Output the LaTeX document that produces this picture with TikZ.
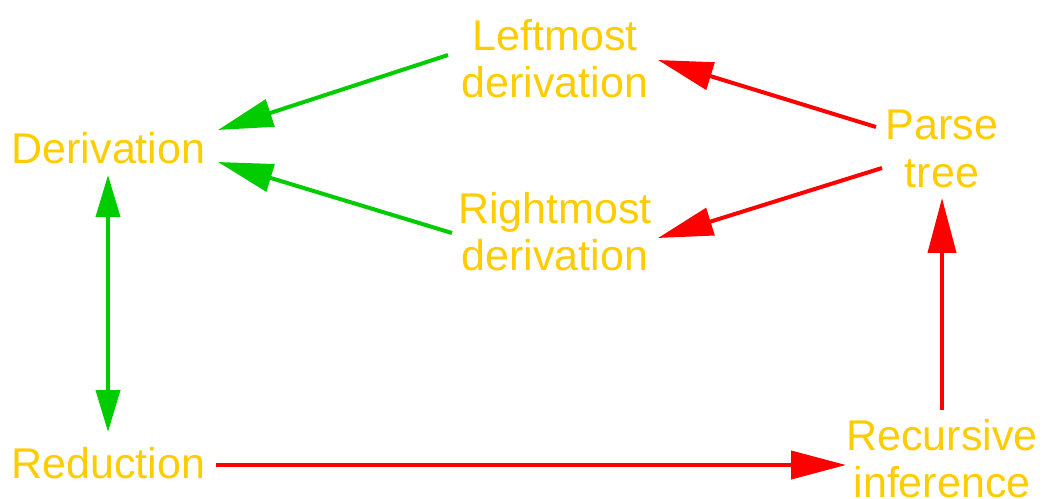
\documentclass[tikz,border=0pt]{standalone}
\usepackage{fontspec}
\setmainfont{Liberation Sans}
\usetikzlibrary{arrows.meta}
\definecolor{lbl}{RGB}{255,204,0}
\definecolor{gr}{RGB}{0,204,0}
\definecolor{rd}{RGB}{255,0,0}
\tikzset{
  lab/.style={text=lbl, align=center, inner sep=0pt, font=\fontsize{43}{47.5}\selectfont},
  garrow/.style={draw=gr, line width=4pt, -{Triangle[length=55pt,width=28pt]}},
  garrows/.style={draw=gr, line width=4pt, {Triangle[length=42pt,width=24pt]}-{Triangle[length=42pt,width=24pt]}},
  rarrow/.style={draw=rd, line width=4pt, -{Triangle[length=55pt,width=28pt]}}
}
\begin{document}
\begin{tikzpicture}[x=1pt,y=1pt]
\useasboundingbox (0,0) rectangle (1043,498);
\node[lab] (der) at (108.5,350) {Derivation};
\node[lab] (lm) at (555,439.5) {Leftmost\\derivation};
\node[lab] (rm) at (555,266.5) {Rightmost\\derivation};
\node[lab] (pt) at (942,349) {Parse\\tree};
\node[lab] (red) at (108.5,35) {Reduction};
\node[lab] (ri) at (942,39.5) {Recursive\\inference};
\draw[garrow] ([shift={(-107pt,3.5pt)}]lm.center) -- ([shift={(109.5pt,18pt)}]der.center);
\draw[garrow] ([shift={(-103pt,-1.5pt)}]rm.center) -- ([shift={(109.5pt,-14pt)}]der.center);
\draw[rarrow] ([shift={(-66pt,22pt)}]pt.center) -- ([shift={(103pt,-1.5pt)}]lm.center);
\draw[rarrow] ([shift={(-60pt,-19pt)}]pt.center) -- ([shift={(103pt,-6.5pt)}]rm.center);
\draw[garrows] ([shift={(-0.5pt,-27pt)}]der.center) -- ([shift={(-0.5pt,31pt)}]red.center);
\draw[rarrow] ([shift={(107.5pt,-2pt)}]red.center) -- ([shift={(-96pt,-6.5pt)}]ri.center);
\draw[rarrow] ([shift={(0pt,48.5pt)}]ri.center) -- ([shift={(0pt,-49pt)}]pt.center);
\end{tikzpicture}
\end{document}
